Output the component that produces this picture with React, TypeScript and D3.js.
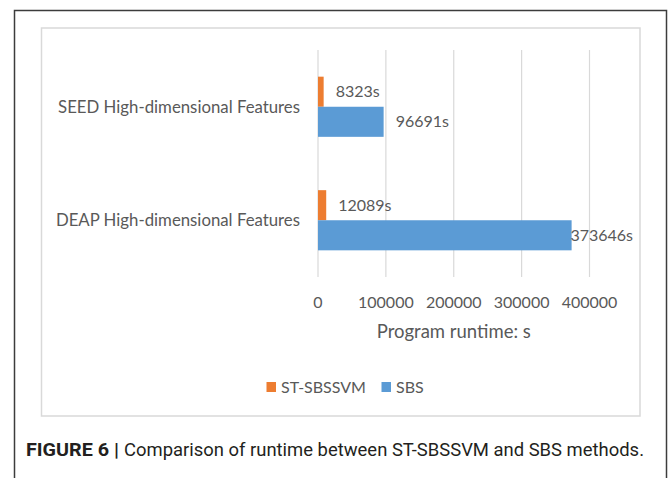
import { useEffect, useRef } from "react"
import * as d3 from "d3"

// values
const categories = ["SEED High-dimensional Features", "DEAP High-dimensional Features"]
const seriesNames = ["ST-SBSSVM", "SBS"]
const stSbssvmRuntime = [8323, 12089]
const sbsRuntime = [96691, 373646]
const xTicks = [0, 100000, 200000, 300000, 400000]
const seriesColors = ["#ED7D31", "#5B9BD5"]

const W = 670
const H = 478
const FONT = "Lato, 'Open Sans', sans-serif"
const CAPTION_FONT = "Roboto, 'Liberation Sans', Arial, sans-serif"
const GREY = "#595959"

export default function App() {
  const svgRef = useRef<SVGSVGElement>(null)

  useEffect(() => {
    if (!svgRef.current) return
    const svg = d3.select(svgRef.current)
    svg.selectAll("*").remove()

    // outer figure border (bottom runs past the crop)
    svg.append("rect")
      .attr("x", 14.5).attr("y", 10.5)
      .attr("width", 652).attr("height", 520)
      .attr("fill", "none")
      .attr("stroke", "#3c3c3c")
      .attr("stroke-width", 1.5)

    // chart area border
    svg.append("rect")
      .attr("x", 41.5).attr("y", 28)
      .attr("width", 598.5).attr("height", 388)
      .attr("fill", "#fff")
      .attr("stroke", "#d9d9d9")
      .attr("stroke-width", 1.5)

    const plotTop = 50
    const plotBottom = 277
    const plotRight = 640

    const xScale = d3.scaleLinear()
      .domain([0, 400000])
      .range([318, 589.5])

    const yScale = d3.scaleBand<string>()
      .domain(categories)
      .range([plotTop, plotBottom])
      .paddingInner(0.47)
      .paddingOuter(0.235)

    const subScale = d3.scaleBand<string>()
      .domain(seriesNames)
      .range([0, yScale.bandwidth()])

    // gridlines
    svg.append("g")
      .selectAll("line")
      .data(xTicks)
      .enter()
      .append("line")
      .attr("x1", d => xScale(d))
      .attr("x2", d => xScale(d))
      .attr("y1", plotTop)
      .attr("y2", plotBottom)
      .attr("stroke", "#d9d9d9")
      .attr("stroke-width", 1.2)

    // tick labels
    svg.append("g")
      .selectAll("text")
      .data(xTicks)
      .enter()
      .append("text")
      .attr("x", d => xScale(d))
      .attr("y", 302)
      .attr("dy", "0.35em")
      .attr("text-anchor", "middle")
      .style("font-family", FONT)
      .style("font-size", "16px")
      .style("fill", GREY)
      .text(d => String(d))

    // axis title
    svg.append("text")
      .attr("x", xScale(200000))
      .attr("y", 332)
      .attr("dy", "0.35em")
      .attr("text-anchor", "middle")
      .style("font-family", FONT)
      .style("font-size", "18.5px")
      .style("fill", GREY)
      .text("Program runtime: s")

    // category labels
    svg.append("g")
      .selectAll("text")
      .data(categories)
      .enter()
      .append("text")
      .attr("x", 300)
      .attr("y", d => yScale(d)! + yScale.bandwidth() / 2)
      .attr("dy", "0.35em")
      .attr("text-anchor", "end")
      .style("font-family", FONT)
      .style("font-size", "16.8px")
      .style("fill", GREY)
      .text(d => d)

    const seriesValues = [stSbssvmRuntime, sbsRuntime]

    seriesNames.forEach((name, si) => {
      const rows = categories.map((c, i) => ({ cat: c, value: seriesValues[si][i] }))
      const g = svg.append("g")

      g.selectAll("rect")
        .data(rows)
        .enter()
        .append("rect")
        .attr("x", xScale(0))
        .attr("y", d => yScale(d.cat)! + subScale(name)!)
        .attr("width", d => xScale(d.value) - xScale(0))
        .attr("height", subScale.bandwidth())
        .attr("fill", seriesColors[si])

      // value labels, pushed left when they would run out of the plot
      g.selectAll("text")
        .data(rows)
        .enter()
        .append("text")
        .attr("y", d => yScale(d.cat)! + subScale(name)! + subScale.bandwidth() / 2)
        .attr("dy", "0.35em")
        .style("font-family", FONT)
        .style("font-size", "16px")
        .style("fill", GREY)
        .text(d => `${d.value}s`)
        .each(function (d) {
          const el = this as SVGTextElement
          const w = el.getComputedTextLength()
          const x = Math.min(xScale(d.value) + 12, plotRight - 7 - w)
          d3.select(el).attr("x", x)
        })
    })

    // legend
    const legend = svg.append("g")
    const legendX = [266.5, 381.5]
    seriesNames.forEach((name, i) => {
      legend.append("rect")
        .attr("x", legendX[i])
        .attr("y", 382)
        .attr("width", 9.5)
        .attr("height", 10)
        .attr("fill", seriesColors[i])
      legend.append("text")
        .attr("x", legendX[i] + 14.5)
        .attr("y", 387)
        .attr("dy", "0.35em")
        .style("font-family", FONT)
        .style("font-size", "16px")
        .style("fill", GREY)
        .text(name)
    })

    // caption
    svg.append("text")
      .attr("x", 26)
      .attr("y", 456)
      .attr("textLength", 93)
      .attr("lengthAdjust", "spacingAndGlyphs")
      .style("font-family", CAPTION_FONT)
      .style("font-weight", "bold")
      .style("font-size", "19px")
      .style("fill", "#231f20")
      .text("FIGURE 6 |")

    svg.append("text")
      .attr("x", 124)
      .attr("y", 456)
      .attr("textLength", 520)
      .attr("lengthAdjust", "spacingAndGlyphs")
      .style("font-family", CAPTION_FONT)
      .style("font-size", "19px")
      .style("fill", "#231f20")
      .text("Comparison of runtime between ST-SBSSVM and SBS methods.")
  }, [])

  return (
    <svg
      ref={svgRef}
      width={W}
      height={H}
      style={{ position: "absolute", left: 0, top: 0, background: "#fff" }}
    />
  )
}
